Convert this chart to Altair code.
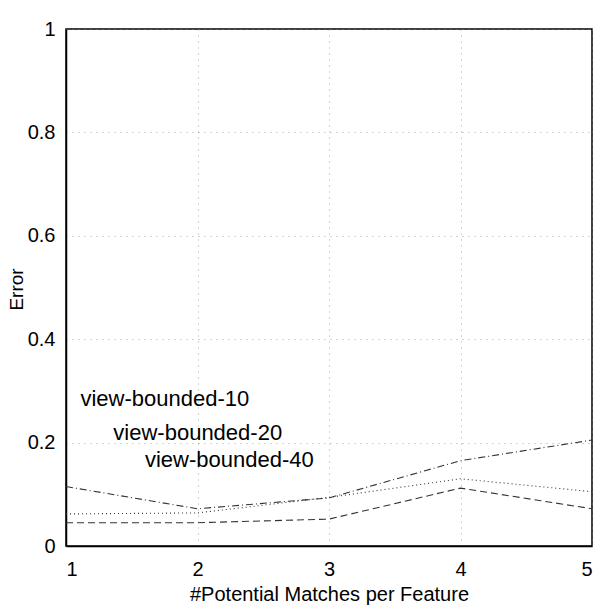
import altair as alt
import pandas as pd

# Number of potential matches per feature
matches = [1, 2, 3, 4, 5]

# Error for each view-bounded setting
err_10 = [0.115, 0.072, 0.093, 0.165, 0.205]
err_20 = [0.062, 0.064, 0.094, 0.130, 0.105]
err_40 = [0.045, 0.045, 0.052, 0.112, 0.072]

series_names = ["view-bounded-10", "view-bounded-20", "view-bounded-40"]

# In-plot label positions (data coordinates)
label_x = [1.11, 1.36, 1.60]
label_y = [0.284, 0.218, 0.166]

rows = []
for name, vals in zip(series_names, [err_10, err_20, err_40]):
    for m, v in zip(matches, vals):
        rows.append({"matches": m, "error": v, "series": name})
df = pd.DataFrame(rows)

labels = pd.DataFrame({"x": label_x, "y": label_y, "text": series_names})

font = "Liberation Sans"

x_scale = alt.Scale(domain=[1, 5], nice=False, zero=False)
y_scale = alt.Scale(domain=[0, 1], nice=False)

x_axis = alt.Axis(
    values=[1, 2, 3, 4, 5], format="d", title="#Potential Matches per Feature",
    grid=True, gridDash=[1, 5], gridColor="#888", gridOpacity=0.7,
    tickSize=0, labelPadding=13, labelFontSize=20, labelFont=font,
    labelColor="black", titleFontSize=20, titleFont=font, titleFontWeight="normal",
    titleColor="black", titlePadding=5, domainColor="black", domainWidth=1.5,
)
y_axis = alt.Axis(
    values=[0, 0.2, 0.4, 0.6, 0.8, 1], title="Error",
    labelExpr="datum.value == 0 ? '0' : datum.value == 1 ? '1' : format(datum.value, '.1f')",
    grid=True, gridDash=[1, 5], gridColor="#888", gridOpacity=0.7,
    tickSize=0, labelPadding=11, labelFontSize=20, labelFont=font,
    labelColor="black", titleFontSize=19, titleFont=font, titleFontWeight="normal",
    titleColor="black", titleX=-40, titleY=260, titleAngle=270,
    titleBaseline="bottom", titleAlign="center",
    domainColor="black", domainWidth=1.5,
)

lines = alt.Chart(df).mark_line(strokeWidth=1.1, color="#333").encode(
    x=alt.X("matches:Q", scale=x_scale, axis=x_axis),
    y=alt.Y("error:Q", scale=y_scale, axis=y_axis),
    strokeDash=alt.StrokeDash(
        "series:N",
        scale=alt.Scale(domain=series_names, range=[[7, 3, 1, 3], [1, 3], [7, 4]]),
        legend=None,
    ),
    detail="series:N",
)

text = alt.Chart(labels).mark_text(
    align="left", baseline="middle", fontSize=22, font=font, color="black"
).encode(
    x=alt.X("x:Q", scale=x_scale),
    y=alt.Y("y:Q", scale=y_scale),
    text="text:N",
)

chart = (
    alt.layer(lines, text)
    .properties(
        width=526, height=517,
        autosize=alt.AutoSizeParams(type="none"),
        padding={"left": 66, "top": 29, "right": 9, "bottom": 60},
        background="white",
    )
    .configure_view(stroke="black", strokeWidth=1.5)
)

chart.save("out.html", embed_options={"renderer": "svg", "actions": False})
